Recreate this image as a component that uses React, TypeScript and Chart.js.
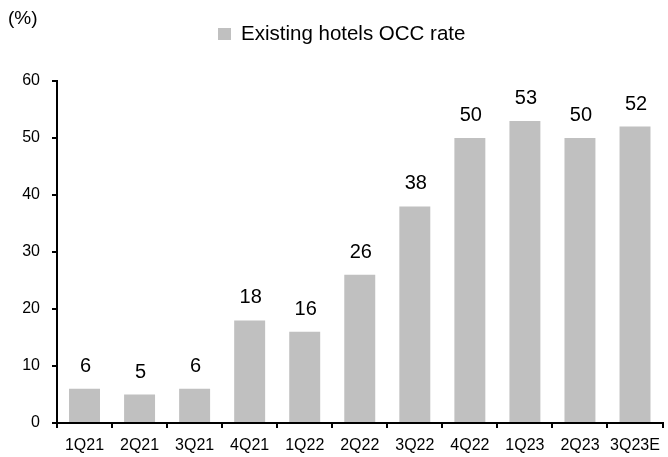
import React, { useEffect, useRef } from "react";
import { Chart, registerables } from "chart.js";

Chart.register(...registerables);

const categories = ["1Q21", "2Q21", "3Q21", "4Q21", "1Q22", "2Q22", "3Q22", "4Q22", "1Q23", "2Q23", "3Q23E"];
const occRate = [6, 5, 6, 18, 16, 26, 38, 50, 53, 50, 52];
const seriesName = "Existing hotels OCC rate";
const unitLabel = "(%)";
const yTicks = [0, 10, 20, 30, 40, 50, 60];

const FONT = "'Liberation Sans', Arial, sans-serif";
const BAR_COLOR = "#c0c0c0";

const overlayPlugin = {
  id: "overlay",
  afterDraw(chart: any) {
    const ctx = chart.ctx;
    ctx.save();
    // unit label
    ctx.fillStyle = "#000";
    ctx.font = `19px ${FONT}`;
    ctx.textAlign = "left";
    ctx.textBaseline = "middle";
    ctx.fillText(unitLabel, 8, 19);
    // legend
    ctx.fillStyle = BAR_COLOR;
    ctx.fillRect(218, 28, 13, 12);
    ctx.fillStyle = "#000";
    ctx.font = `20.5px ${FONT}`;
    ctx.fillText(seriesName, 241, 34);
    // data labels
    const meta = chart.getDatasetMeta(0);
    ctx.font = `20px ${FONT}`;
    ctx.textAlign = "center";
    ctx.textBaseline = "alphabetic";
    meta.data.forEach((bar: any, i: number) => {
      ctx.fillText(String(occRate[i]), bar.x + 1, bar.y - 17);
    });
    ctx.restore();
  },
};

export default function App() {
  const canvasRef = useRef<HTMLCanvasElement | null>(null);

  useEffect(() => {
    if (!canvasRef.current) return;
    const chart = new Chart(canvasRef.current, {
      type: "bar",
      data: {
        labels: categories,
        datasets: [
          {
            label: seriesName,
            data: occRate,
            backgroundColor: BAR_COLOR,
            borderWidth: 0,
            barPercentage: 0.75,
            categoryPercentage: 0.75,
          },
        ],
      },
      options: {
        animation: false,
        responsive: true,
        maintainAspectRatio: false,
        layout: { padding: { top: 81, right: 2, bottom: 0, left: 0 } },
        plugins: {
          legend: { display: false },
          tooltip: { enabled: false },
        },
        scales: {
          x: {
            offset: true,
            grid: {
              offset: true,
              drawOnChartArea: false,
              drawTicks: true,
              tickLength: 5,
              color: "#000",
              lineWidth: 2,
            },
            border: { display: true, color: "#000", width: 2 },
            ticks: {
              color: "#000",
              font: { family: FONT, size: 16 },
              padding: 8,
              maxRotation: 0,
              autoSkip: false,
            },
            afterFit: (scale: any) => {
              scale.height = 34;
            },
          },
          y: {
            min: 0,
            max: 60,
            afterBuildTicks: (scale: any) => {
              scale.ticks = yTicks.map((v) => ({ value: v }));
            },
            grid: {
              drawOnChartArea: false,
              drawTicks: true,
              tickLength: 5,
              color: "#000",
              lineWidth: 2,
            },
            border: { display: true, color: "#000", width: 2 },
            ticks: {
              color: "#000",
              font: { family: FONT, size: 16 },
              padding: 12,
            },
            afterFit: (scale: any) => {
              scale.width = 57;
            },
          },
        },
      },
      plugins: [overlayPlugin],
    });
    return () => chart.destroy();
  }, []);

  return (
    <div style={{ position: "absolute", left: 0, top: 0, width: 668, height: 457 }}>
      <canvas ref={canvasRef} />
    </div>
  );
}
